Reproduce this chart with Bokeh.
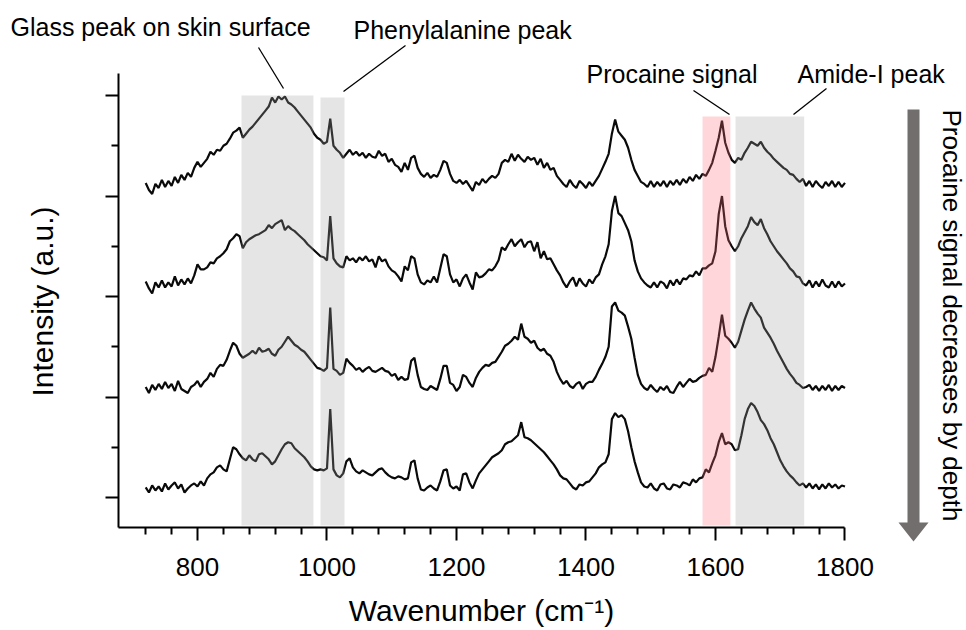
import math
from bokeh.plotting import figure
from bokeh.models import Range1d, FixedTicker, Label
from bokeh.embed import file_html
from bokeh.resources import INLINE

# ---------------- data ----------------
wavenumbers = list(range(720, 1801, 5))

# stacked Raman spectra (a.u.), top trace = skin surface, bottom = deepest
depth_1 = [
    313, 306, 302, 312, 308, 316, 309, 315, 310, 319, 313, 321, 316, 323, 319, 328, 334, 329, 333, 337,
    344, 341, 346, 345, 350, 352, 357, 363, 365, 368, 358, 362, 366, 369, 373, 377, 381, 385, 389, 398,
    393, 399, 396, 399, 393, 391, 388, 384, 380, 376, 372, 368, 362, 358, 356, 352, 354, 377, 350, 346,
    343, 338, 342, 346, 341, 344, 340, 343, 338, 342, 339, 338, 345, 340, 342, 334, 337, 331, 329, 324,
    333, 326, 338, 340, 328, 322, 319, 323, 318, 321, 319, 326, 335, 333, 322, 315, 313, 316, 312, 315,
    310, 305, 314, 311, 317, 313, 317, 320, 318, 322, 333, 336, 334, 342, 335, 341, 337, 334, 339, 336,
    338, 331, 337, 328, 333, 326, 328, 320, 316, 312, 309, 316, 311, 308, 315, 312, 308, 314, 310, 315,
    320, 327, 334, 342, 362, 376, 364, 360, 356, 348, 336, 326, 320, 314, 312, 309, 315, 309, 314, 310,
    315, 309, 315, 311, 316, 311, 317, 313, 319, 315, 321, 317, 322, 320, 326, 333, 345, 358, 375, 353,
    343, 336, 333, 338, 336, 343, 348, 354, 352, 350, 354, 348, 344, 341, 337, 334, 331, 328, 326, 322,
    321, 317, 314, 317, 310, 315, 309, 315, 311, 308, 314, 310, 315, 309, 314, 309, 313,
]
depth_2 = [
    215, 208, 203, 214, 209, 216, 209, 214, 210, 220, 211, 217, 212, 218, 213, 221, 232, 227, 227, 229,
    234, 233, 238, 240, 243, 247, 255, 258, 262, 260, 248, 254, 257, 259, 261, 262, 264, 266, 271, 268,
    272, 274, 276, 266, 270, 267, 265, 262, 259, 256, 252, 249, 246, 243, 240, 239, 236, 280, 238, 233,
    230, 229, 240, 236, 238, 234, 239, 236, 240, 235, 237, 229, 240, 235, 237, 230, 226, 224, 220, 215,
    230, 226, 240, 238, 222, 214, 212, 216, 214, 220, 214, 228, 242, 240, 222, 214, 217, 210, 218, 222,
    214, 207, 224, 219, 220, 223, 227, 226, 230, 236, 249, 246, 252, 257, 250, 254, 257, 249, 254, 255,
    245, 254, 238, 245, 237, 238, 232, 226, 221, 214, 209, 215, 219, 210, 218, 213, 210, 217, 213, 219,
    222, 232, 240, 252, 285, 300, 283, 280, 273, 266, 255, 236, 225, 218, 214, 211, 209, 214, 209, 215,
    213, 208, 216, 211, 217, 212, 218, 217, 221, 220, 225, 221, 228, 228, 231, 233, 245, 282, 300, 270,
    256, 250, 245, 250, 258, 264, 270, 279, 274, 271, 277, 268, 262, 255, 250, 245, 241, 237, 233, 228,
    225, 220, 219, 213, 211, 216, 209, 215, 210, 217, 211, 209, 215, 209, 215, 210, 213,
]
depth_3 = [
    110, 104, 112, 107, 113, 108, 115, 109, 113, 106, 116, 108, 106, 104, 110, 112, 116, 110, 115, 118,
    124, 120, 128, 132, 131, 137, 146, 154, 151, 143, 139, 141, 143, 146, 143, 149, 145, 146, 148, 143,
    141, 147, 150, 155, 160, 156, 152, 150, 147, 145, 141, 137, 133, 129, 128, 126, 129, 189, 128, 126,
    122, 124, 138, 134, 131, 127, 129, 125, 128, 130, 126, 125, 127, 129, 126, 125, 121, 123, 117, 120,
    117, 118, 136, 139, 122, 110, 108, 107, 111, 109, 107, 118, 131, 131, 114, 112, 106, 110, 122, 120,
    114, 110, 119, 125, 129, 132, 131, 134, 135, 140, 145, 151, 153, 156, 160, 157, 173, 160, 158, 154,
    156, 149, 146, 148, 143, 141, 135, 125, 118, 113, 116, 111, 109, 113, 115, 108, 113, 115, 115, 120,
    127, 133, 140, 150, 190, 194, 186, 184, 181, 170, 158, 139, 122, 113, 109, 107, 112, 108, 105, 110,
    107, 111, 105, 104, 110, 115, 110, 114, 118, 115, 116, 119, 121, 122, 129, 125, 140, 160, 182, 161,
    158, 154, 149, 155, 166, 177, 186, 194, 188, 183, 179, 169, 164, 159, 153, 146, 140, 134, 128, 123,
    119, 114, 112, 109, 110, 112, 107, 111, 106, 111, 107, 112, 106, 111, 107, 111, 109,
]
depth_4 = [
    10, 5, 12, 7, 11, 6, 14, 8, 12, 15, 9, 13, 5, 9, 12, 14, 11, 16, 12, 19,
    23, 25, 30, 32, 28, 26, 38, 50, 48, 43, 39, 37, 42, 38, 36, 43, 44, 41, 38, 33,
    36, 42, 48, 53, 55, 54, 49, 46, 43, 40, 36, 31, 28, 27, 28, 27, 29, 88, 28, 22,
    20, 24, 36, 39, 30, 26, 24, 27, 25, 23, 22, 25, 28, 29, 25, 22, 20, 19, 21, 20,
    18, 19, 35, 37, 19, 8, 7, 10, 12, 9, 7, 16, 27, 28, 12, 9, 11, 7, 23, 24,
    15, 9, 17, 24, 28, 32, 36, 40, 42, 44, 47, 53, 55, 56, 59, 62, 75, 60, 59, 57,
    54, 51, 48, 45, 41, 37, 33, 28, 22, 19, 18, 14, 10, 8, 13, 12, 15, 16, 20, 24,
    30, 33, 35, 43, 78, 84, 80, 82, 78, 66, 50, 36, 25, 15, 11, 10, 14, 9, 7, 13,
    14, 9, 8, 13, 12, 10, 15, 14, 12, 18, 15, 19, 20, 28, 25, 34, 42, 55, 64, 53,
    55, 53, 47, 48, 62, 78, 88, 94, 91, 85, 77, 73, 67, 59, 53, 45, 37, 31, 26, 22,
    19, 15, 12, 14, 10, 14, 9, 13, 8, 13, 9, 14, 10, 13, 9, 12, 11,
]
spectra = [depth_1, depth_2, depth_3, depth_4]

# highlighted bands (wavenumber limits and top in a.u.)
band_names = ["Glass", "Phenylalanine", "Procaine", "Amide-I"]
band_starts = [868, 990, 1580, 1631]
band_ends = [979, 1027, 1623, 1737]
band_tops = [400, 398, 379, 379]
band_colors = ["#a0a0a0", "#a0a0a0", "#ff6c77", "#a0a0a0"]

x_major = [800, 1000, 1200, 1400, 1600, 1800]
x_minor = [720, 760, 840, 880, 920, 960, 1040, 1080, 1120, 1160, 1240, 1280, 1320, 1360,
           1440, 1480, 1520, 1560, 1640, 1680, 1720, 1760]
y_major = [0, 100, 200, 300, 400]
y_minor = [50, 150, 250, 350]

for s in spectra:
    assert len(s) == len(wavenumbers), len(s)

# ---------------- layout (page pixels -> data) ----------------
FONT = "Liberation Sans"
W, H = 966, 630
AXIS_X_PX, AXIS_Y_PX = 118, 527
X_START = 678


def dx(px):
    return X_START + (px - AXIS_X_PX) / 0.6475


def dy(py):
    return (497 - py) / 1.005


p = figure(frame_width=W, frame_height=H,
           min_border_left=0, min_border_right=0, min_border_top=0, min_border_bottom=0,
           x_range=Range1d(dx(0), dx(W)), y_range=Range1d(dy(H), dy(0)),
           output_backend="svg", toolbar_location=None,
           background_fill_color="white", border_fill_color="white")
p.outline_line_color = None
p.xgrid.visible = False
p.ygrid.visible = False

for s in spectra:
    p.line(wavenumbers, s, line_color="#0a0a0a", line_width=2.2)

p.quad(left=band_starts, right=band_ends, bottom=[dy(525)] * len(band_starts), top=band_tops,
       fill_color=band_colors, fill_alpha=0.28, line_color=None)

# axes
xa = p.xaxis[0]
xa.fixed_location = dy(AXIS_Y_PX)
xa.bounds = (X_START, 1800)
xa.ticker = FixedTicker(ticks=x_major, minor_ticks=x_minor)
xa.axis_label = "Wavenumber (cm\u207b\u00b9)"
xa.major_label_text_font_size = "26px"
xa.major_label_standoff = 17
xa.axis_label_standoff = 15

ya = p.yaxis[0]
ya.fixed_location = X_START
ya.bounds = (dy(AXIS_Y_PX), dy(73))
ya.ticker = FixedTicker(ticks=y_major, minor_ticks=y_minor)
ya.major_label_overrides = {t: "" for t in y_major}

for ax in (xa, ya):
    ax.axis_line_width = 2
    ax.axis_line_color = "black"
    ax.major_tick_line_width = 2
    ax.minor_tick_line_width = 2
    ax.major_tick_line_color = "black"
    ax.minor_tick_line_color = "black"
    ax.major_tick_in = 0
    ax.major_tick_out = 13
    ax.minor_tick_in = 0
    ax.minor_tick_out = 7
    ax.axis_label_text_font = FONT
    ax.axis_label_text_font_style = "normal"
    ax.axis_label_text_font_size = "30px"
    ax.axis_label_text_color = "black"
    ax.major_label_text_font = FONT
    ax.major_label_text_color = "black"

p.add_layout(Label(x=dx(42), y=dy(301), angle=math.pi / 2, text="Intensity (a.u.)",
                   text_font=FONT, text_font_size="30px", text_color="black",
                   text_align="center", text_baseline="alphabetic"))

# annotations
notes = [
    ("Glass peak on skin surface", 10, 26, (258, 47), (283, 88)),
    ("Phenylalanine peak", 353, 29, (405, 45), (343, 91)),
    ("Procaine signal", 586, 73, (693, 90), (729, 114)),
    ("Amide-I peak", 797, 73, (826, 88), (793, 114)),
]
for text, tx, ty, a, b in notes:
    p.add_layout(Label(x=dx(tx), y=dy(ty), text=text, text_font=FONT, text_font_size="25px",
                       text_color="black", text_align="left", text_baseline="alphabetic"))
    p.segment(x0=[dx(a[0])], y0=[dy(a[1])], x1=[dx(b[0])], y1=[dy(b[1])],
              line_color="black", line_width=1.3)

# depth arrow
ax_px = [907, 919, 919, 928, 913, 898, 907]
ay_px = [109, 109, 522, 522, 541, 522, 522]
p.patch([dx(v) for v in ax_px], [dy(v) for v in ay_px], fill_color="#726e6d", line_color=None)
p.add_layout(Label(x=dx(951), y=dy(109), angle=-math.pi / 2, text="Procaine signal decreases by depth",
                   text_font=FONT, text_font_size="26px", text_color="black",
                   text_align="left", text_baseline="alphabetic"))

open("out.html", "w").write(file_html(p, INLINE))
